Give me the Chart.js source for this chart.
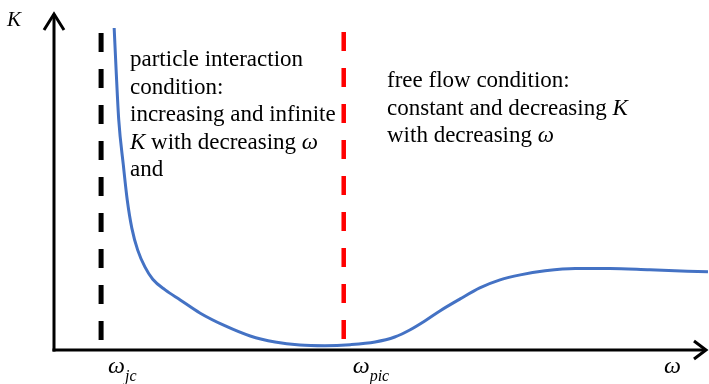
<!DOCTYPE html>
<html>
<head>
<meta charset="utf-8">
<script src="https://cdn.jsdelivr.net/npm/chart.js@4.4.1/dist/chart.umd.min.js"></script>
<style>
  html, body { margin: 0; padding: 0; background: #fff; }
  #stiffness { display: block; }
</style>
</head>
<body>
<canvas id="stiffness" width="709" height="384"></canvas>
<script>
let canva = document.querySelector('#stiffness')

// K(omega) curve, axis units 0..100 on both axes
const omega_values = [9.2, 9.5, 9.9, 10.6, 11.2, 11.9, 12.8, 13.9, 15.1, 17.0, 19.3, 22.3, 26.2, 30.0, 33.8, 37.6, 41.4, 45.3, 49.1, 52.1, 54.4, 56.7, 59.0, 62.1, 65.1, 68.2, 71.3, 75.1, 79.7, 85.0, 91.1, 100]
const k_values = [96.4, 83.8, 68.9, 55.4, 44.9, 36.5, 29.9, 24.9, 21.2, 18.0, 15.0, 11.1, 7.2, 4.2, 2.4, 1.5, 1.3, 1.6, 2.4, 3.9, 6.0, 8.7, 11.7, 15.3, 18.6, 21.0, 22.5, 23.7, 24.4, 24.4, 24.0, 23.4]

// critical frequencies (dashed markers) and their vertical extent
const omega_jc = 7.2
const omega_pic = 44.3
const jc_span = [94.9, 2.1]
const pic_span = [95.2, 3.0]

// annotation text, each line is a list of [text, italic]
const left_note = [
  [['particle interaction', false]],
  [['condition:', false]],
  [['increasing and infinite', false]],
  [['K', true], [' with decreasing ', false], ['ω', true]],
  [['and', false]]
]
const right_note = [
  [['free flow condition:', false]],
  [['constant and decreasing ', false], ['K', true]],
  [['with decreasing ', false], ['ω', true]]
]

const SERIF = '"Liberation Serif", "DejaVu Serif", serif'

function drawRuns(ctx, x, y, runs, size) {
  let cx = x
  runs.forEach(([txt, italic]) => {
    ctx.font = (italic ? 'italic ' : '') + size + 'px ' + SERIF
    ctx.fillText(txt, cx, y)
    cx += ctx.measureText(txt).width
  })
}

const axesPlugin = {
  id: 'axesArrows',
  beforeDatasetsDraw(chart) {
    const { ctx, chartArea } = chart
    const left = chartArea.left, bottom = chartArea.bottom
    ctx.save()
    ctx.strokeStyle = '#000'
    ctx.lineWidth = 3
    ctx.lineCap = 'butt'
    ctx.lineJoin = 'miter'
    // y axis with arrow
    ctx.beginPath()
    ctx.moveTo(left, bottom + 1.5)
    ctx.lineTo(left, 14)
    ctx.stroke()
    ctx.beginPath()
    ctx.moveTo(left - 10, 30)
    ctx.lineTo(left, 14)
    ctx.lineTo(left + 10, 30)
    ctx.stroke()
    // x axis with arrow
    ctx.beginPath()
    ctx.moveTo(left - 1.5, bottom)
    ctx.lineTo(706, bottom)
    ctx.stroke()
    ctx.beginPath()
    ctx.moveTo(694, bottom - 9)
    ctx.lineTo(706, bottom)
    ctx.lineTo(694, bottom + 9)
    ctx.stroke()
    ctx.restore()
  },
  afterDraw(chart) {
    const { ctx } = chart
    const xs = chart.scales.x
    ctx.save()
    ctx.fillStyle = '#000'
    ctx.textBaseline = 'alphabetic'
    ctx.textAlign = 'left'

    left_note.forEach((line, i) => drawRuns(ctx, 130, 66 + i * 27.5, line, 23))
    right_note.forEach((line, i) => drawRuns(ctx, 387, 87 + i * 27.5, line, 23))

    // axis names
    drawRuns(ctx, 7, 26, [['K', true]], 21)
    drawRuns(ctx, 664, 373, [['ω', true]], 24)

    // subscripted labels under the markers
    ctx.font = 'italic 24px ' + SERIF
    let w = ctx.measureText('ω').width
    const jx = xs.getPixelForValue(omega_jc) + 7
    drawRuns(ctx, jx, 373, [['ω', true]], 24)
    drawRuns(ctx, jx + w, 381, [['jc', true]], 16)

    const px = xs.getPixelForValue(omega_pic) + 9
    drawRuns(ctx, px, 373, [['ω', true]], 24)
    drawRuns(ctx, px + w, 381, [['pic', true]], 16)
    ctx.restore()
  }
}

const data = {
  datasets: [{
    label: 'K',
    data: omega_values.map((v, i) => ({ x: v, y: k_values[i] })),
    borderColor: '#4472C4',
    borderWidth: 3,
    pointRadius: 0,
    cubicInterpolationMode: 'monotone',
    fill: false
  }, {
    label: 'omega_jc',
    data: jc_span.map(v => ({ x: omega_jc, y: v })),
    borderColor: '#000',
    borderWidth: 5,
    borderDash: [19, 17],
    pointRadius: 0,
    fill: false
  }, {
    label: 'omega_pic',
    data: pic_span.map(v => ({ x: omega_pic, y: v })),
    borderColor: '#ff0000',
    borderWidth: 4.5,
    borderDash: [19, 17],
    pointRadius: 0,
    fill: false
  }]
}

const config = {
  type: 'line',
  data: data,
  options: {
    responsive: false,
    animation: false,
    layout: { padding: { left: 54, right: 1, top: 16, bottom: 34 } },
    plugins: { legend: { display: false }, tooltip: { enabled: false } },
    scales: {
      x: { type: 'linear', display: false, min: 0, max: 100 },
      y: { type: 'linear', display: false, min: 0, max: 100 }
    }
  },
  plugins: [axesPlugin]
}

new Chart(canva, config)
</script>
</body>
</html>
